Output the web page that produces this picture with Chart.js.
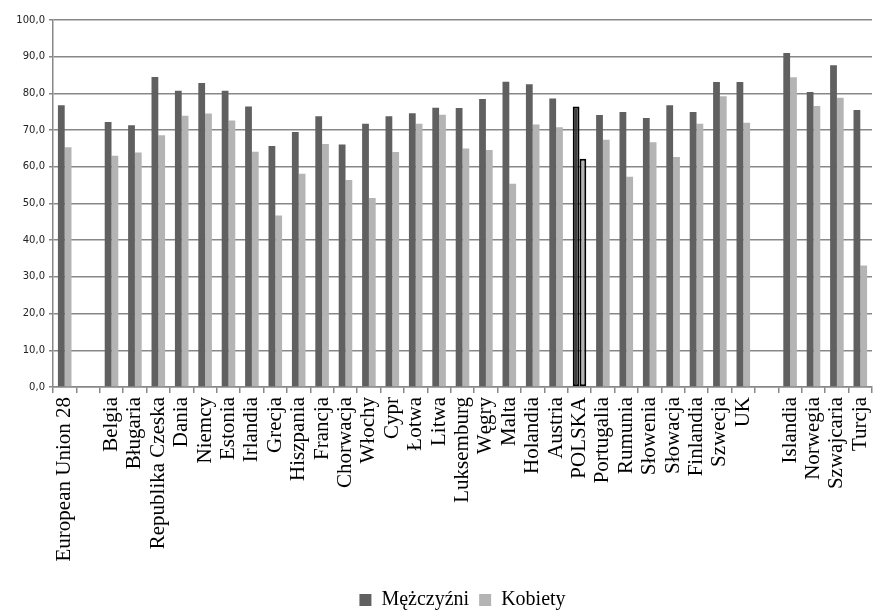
<!DOCTYPE html>
<html>
<head>
<meta charset="utf-8">
<script src="https://cdn.jsdelivr.net/npm/chart.js@4/dist/chart.umd.min.js"></script>
<style>
  html, body { margin: 0; padding: 0; background: #fff; }
  #wrap { width: 874px; height: 610px; }
</style>
</head>
<body>
<div id="wrap"><canvas id="c" width="874" height="610"></canvas></div>
<script>
const categories = ["European Union 28", "", "Belgia", "Bługaria", "Republika Czeska", "Dania", "Niemcy", "Estonia", "Irlandia", "Grecja", "Hiszpania", "Francja", "Chorwacja", "Włochy", "Cypr", "Łotwa", "Litwa", "Luksemburg", "Węgry", "Malta", "Holandia", "Austria", "POLSKA", "Portugalia", "Rumunia", "Słowenia", "Słowacja", "Finlandia", "Szwecja", "UK", " ", "Islandia", "Norwegia", "Szwajcaria", "Turcja"];
const men   = [76.8, null, 72.2, 71.3, 84.5, 80.7, 82.8, 80.7, 76.4, 65.7, 69.5, 73.8, 66.1, 71.7, 73.8, 74.6, 76.1, 76.0, 78.5, 83.2, 82.5, 78.6, 76.4, 74.1, 74.9, 73.3, 76.8, 74.9, 83.1, 83.1, null, 91.0, 80.4, 87.7, 75.5];
const women = [65.3, null, 63.0, 63.9, 68.6, 73.9, 74.5, 72.6, 64.1, 46.7, 58.1, 66.2, 56.4, 51.5, 64.0, 71.7, 74.2, 65.0, 64.6, 55.4, 71.5, 70.8, 62.2, 67.4, 57.3, 66.7, 62.7, 71.7, 79.2, 72.0, null, 84.4, 76.6, 78.8, 33.1];
const seriesNames = ["Mężczyźni", "Kobiety"];
const highlight = "POLSKA";

const hiIdx = categories.indexOf(highlight);
function colors(base, hi) { return categories.map((c, i) => i === hiIdx ? hi : base); }
function borders() { return categories.map((c, i) => i === hiIdx ? 2 : 0); }

new Chart(document.getElementById('c'), {
  type: 'bar',
  data: {
    labels: categories,
    datasets: [
      { label: seriesNames[0], data: men, backgroundColor: colors('#606060', '#3e3e3e'), borderColor: '#000', borderWidth: borders(), borderSkipped: false, barPercentage: 1, categoryPercentage: 0.58 },
      { label: seriesNames[1], data: women, backgroundColor: colors('#b4b4b4', '#b4b4b4'), borderColor: '#000', borderWidth: borders(), borderSkipped: false, barPercentage: 1, categoryPercentage: 0.58 }
    ]
  },
  options: {
    responsive: false,
    animation: false,
    layout: { padding: { top: 20, right: 2, left: 0, bottom: -10 } },
    plugins: {
      legend: {
        position: 'bottom',
        fullSize: false,
        labels: {
          color: '#000',
          font: { family: 'Liberation Serif', size: 20 },
          boxWidth: 12, boxHeight: 12, padding: 10,
          generateLabels: (chart) => chart.data.datasets.map((ds, i) => ({
            text: ds.label, fillStyle: i === 0 ? '#606060' : '#b4b4b4', strokeStyle: 'transparent', lineWidth: 0, datasetIndex: i, fontColor: '#000'
          }))
        }
      },
      tooltip: { enabled: false }
    },
    scales: {
      x: {
        ticks: { color: '#000', font: { family: 'Liberation Serif', size: 21 }, maxRotation: 90, minRotation: 90, autoSkip: false, padding: 4 },
        grid: { display: true, drawOnChartArea: false, offset: true, tickLength: 6, color: '#888', lineWidth: 1.5 },
        border: { color: '#888', width: 1.5 },
        afterFit: (s) => { s.height = 193; s.paddingLeft = 0; s.paddingRight = 0; }
      },
      y: {
        min: 0, max: 100,
        ticks: { stepSize: 10, color: '#222', font: { family: 'DejaVu Sans', size: 10 }, padding: 4, callback: (v) => v.toFixed(1).replace('.', ',') },
        grid: { color: '#888', lineWidth: 1.5, tickLength: 4 },
        border: { color: '#888', width: 1.5 },
        afterFit: (s) => { s.width = 53; s.paddingTop = 0; s.paddingBottom = 0; }
      }
    }
  }
});
</script>
</body>
</html>
